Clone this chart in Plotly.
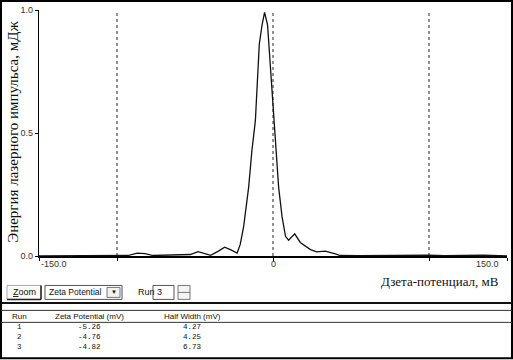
import plotly.graph_objects as go

# ---- data ----
zeta_mv = [-150, -130, -110, -100, -93, -87, -82, -77, -68, -60, -53, -48, -44, -40,
           -35, -31, -27, -23, -21, -18.8, -15.6, -13.5, -11.3, -8.8, -7, -5.4, -3.5,
           -1.7, -0.2, 1.5, 3.6, 5.8, 8, 10, 13.9, 17.5, 24, 28, 33.5, 40, 43, 55,
           73, 80, 100, 110, 135, 150]
energy = [0.0, 0.001, 0.003, 0.004, 0.002, 0.012, 0.010, 0.002, 0.004, 0.003, 0.006,
          0.018, 0.012, 0.003, 0.02, 0.036, 0.025, 0.012, 0.047, 0.12, 0.28, 0.43,
          0.55, 0.86, 0.94, 0.99, 0.94, 0.77, 0.63, 0.47, 0.28, 0.16, 0.08, 0.064,
          0.09, 0.055, 0.026, 0.017, 0.02, 0.009, 0.002, 0.001, 0.003, 0.001, 0.003,
          0.001, 0.003, 0.0]
marker_lines = [-100, 0, 100]
x_tick_vals = [-150, 0, 150]
x_tick_text = ["-150.0", "0", "150.0"]
y_tick_vals = [0, 0.5, 1.0]
y_tick_text = ["0.0", "0.5", "1.0"]

runs = ["1", "2", "3"]
zeta_potential = ["-5.26", "-4.76", "-4.82"]
half_width = ["4.27", "4.25", "6.73"]
table_headers = ["Run", "Zeta Potential (mV)", "Half Width (mV)"]

# ---- geometry helpers (pixel -> paper) ----
W_FIG, H_FIG = 513, 360
L, R, T, B = 39, 507, 10, 256.5
PW, PH = R - L, B - T


def px(x):
    return (x - L) / PW


def py(y):
    return (B - y) / PH


fig = go.Figure()
fig.add_trace(go.Scatter(x=zeta_mv, y=energy, mode="lines",
                         line=dict(color="#111111", width=1.3),
                         hoverinfo="skip", showlegend=False))

shapes = []
for v in marker_lines:
    shapes.append(dict(type="line", xref="x", yref="paper", x0=v, x1=v, y0=0, y1=1,
                       line=dict(color="#222222", width=1, dash="dot"), layer="below"))


def rect(x0, y0, x1, y1, color="#000", width=1, fill=None):
    d = dict(type="rect", xref="paper", yref="paper", x0=px(x0), x1=px(x1),
             y0=py(y0), y1=py(y1), line=dict(color=color, width=width))
    if fill:
        d["fillcolor"] = fill
    shapes.append(d)


def hline(x0, x1, y, color="#000", width=1):
    shapes.append(dict(type="line", xref="paper", yref="paper", x0=px(x0), x1=px(x1),
                       y0=py(y), y1=py(y), line=dict(color=color, width=width)))


def vline(x, y0, y1, color="#000", width=1):
    shapes.append(dict(type="line", xref="paper", yref="paper", x0=px(x), x1=px(x),
                       y0=py(y0), y1=py(y1), line=dict(color=color, width=width)))


# outer frame
rect(1, 1, 512, 359, color="#000000", width=2)

# Zoom button
rect(7, 286, 41, 300, color="#aaaaaa", width=1, fill="#fafafa")
hline(7, 41, 300, color="#222", width=1.5)
vline(41, 286, 300, color="#222", width=1.5)
# dropdown
rect(45, 286, 122, 300, color="#555555", width=1, fill="#ffffff")
rect(107, 288, 120, 298, color="#777777", width=1, fill="#f2f2f2")
# run textbox
rect(153, 286, 174, 300, color="#555555", width=1, fill="#ffffff")
# spinner
rect(178, 286, 190, 300, color="#777777", width=1, fill="#f4f4f4")
hline(178, 190, 293, color="#777777", width=1)

# separators
hline(1, 512, 303.5, color="#111111", width=2)
hline(1, 512, 311, color="#333333", width=1)
hline(1, 512, 323, color="#333333", width=1)

ann = []
font_ui = "Liberation Sans, Arial, sans-serif"
font_mono = "Liberation Mono, DejaVu Sans Mono, monospace"


def label(x, y, text, size=9, xanchor="center", family=font_ui, color="#111111"):
    ann.append(dict(x=px(x), y=py(y), xref="paper", yref="paper", text=text,
                    showarrow=False, xanchor=xanchor, yanchor="middle", borderpad=0,
                    font=dict(family=family, size=size, color=color)))


# x tick labels
anchors = ["left", "center", "right"]
shifts = [0, 0, -6]
for v, t, a, s in zip(x_tick_vals, x_tick_text, anchors, shifts):
    ann.append(dict(x=v, xref="x", y=py(265), yref="paper", text=t, showarrow=False,
                    xanchor=a, yanchor="middle", xshift=s,
                    font=dict(family=font_ui, size=9, color="#333333")))

# axis titles
ann.append(dict(x=px(501), y=py(282), xref="paper", yref="paper",
                text="Дзета-потенциал, мВ", showarrow=False, xanchor="right",
                yanchor="middle",
                font=dict(family="Liberation Serif, Times New Roman, serif", size=13,
                          color="#111111")))
ann.append(dict(x=px(13), y=py(132), xref="paper", yref="paper",
                text="Энергия лазерного импульса, мДж", showarrow=False, textangle=-90,
                xanchor="center", yanchor="middle",
                font=dict(family="Liberation Serif, Times New Roman, serif", size=15,
                          color="#111111")))

# controls text
label(24, 293, "<u>Z</u>oom", size=9)
label(48, 293, "Zeta Potential", size=8.5, xanchor="left")
label(113.5, 293, "▼", size=6)
label(137, 293, "Run", size=9, xanchor="left")
label(156, 293, "3", size=9, xanchor="left")

# table
col_x = [19, 89, 192]
for cx, h in zip(col_x, table_headers):
    label(cx, 317, h, size=8)
columns = [runs, zeta_potential, half_width]
for cx, col in zip(col_x, columns):
    label(cx, 337.5, "<br>".join(col), size=7.5, family=font_mono)

fig.update_layout(
    width=W_FIG, height=H_FIG,
    margin=dict(l=L, r=W_FIG - R, t=T, b=H_FIG - B, pad=0),
    paper_bgcolor="white", plot_bgcolor="white",
    shapes=shapes, annotations=ann,
    xaxis=dict(range=[-150, 150], showgrid=False, zeroline=False, showline=True,
               linecolor="#000", linewidth=1.5, ticks="outside", ticklen=3,
               tickcolor="#000", tickvals=[-150, -100, 0, 100, 150],
               showticklabels=False, fixedrange=True),
    yaxis=dict(range=[0, 1.0], showgrid=False, zeroline=False, showline=True,
               linecolor="#000", linewidth=1.2, ticks="outside", ticklen=3,
               tickcolor="#000", tickvals=y_tick_vals, ticktext=y_tick_text,
               tickfont=dict(family=font_ui, size=9, color="#333333"),
               fixedrange=True),
    showlegend=False,
)

fig.write_html("out.html", config={"displayModeBar": False},
               post_script="document.body.style.margin='0';document.body.style.padding='0';document.body.style.overflow='hidden';")
